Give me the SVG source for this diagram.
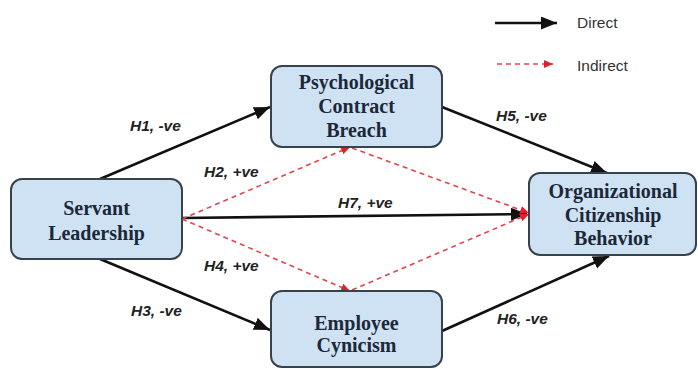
<svg xmlns="http://www.w3.org/2000/svg" width="698" height="369" viewBox="0 0 698 369">
<style>
.box{fill:#cfe2f3;stroke:#37424c;stroke-width:2}
.nt{font-family:"Liberation Serif","Times New Roman",serif;font-weight:bold;font-size:20px;fill:#1b2838;text-anchor:middle}
.lbl{font-family:"Liberation Sans",Arial,sans-serif;font-weight:bold;font-style:italic;font-size:15.5px;fill:#222}
.leg{font-family:"Liberation Sans",Arial,sans-serif;font-size:15.5px;fill:#333}
.d{stroke:#111;stroke-width:2.6;fill:none}
.i{stroke:#e0454a;stroke-width:1.6;stroke-dasharray:5 4;fill:none}
</style>
<defs>
<marker id="ab" markerUnits="userSpaceOnUse" markerWidth="17" markerHeight="14" refX="16" refY="6.5" orient="auto"><path d="M0,0 L16,6.5 L0,13 z" fill="#111"/></marker>
<marker id="ar" markerUnits="userSpaceOnUse" markerWidth="10" markerHeight="9" refX="9" refY="4" orient="auto"><path d="M0,0 L9,4 L0,8 z" fill="#e0202a"/></marker>
</defs>
<g id="legend">
<line class="d" x1="495" y1="23" x2="557" y2="23" marker-end="url(#ab)"/>
<text class="leg" x="577" y="28">Direct</text>
<line class="i" x1="497" y1="64" x2="553" y2="64" marker-end="url(#ar)"/>
<text class="leg" x="577" y="71">Indirect</text>
</g>
<g id="connectors">
<line class="d" x1="100" y1="179" x2="270" y2="107" marker-end="url(#ab)"/>
<line class="d" x1="100" y1="259" x2="270" y2="330" marker-end="url(#ab)"/>
<line class="d" x1="442" y1="107" x2="607" y2="173" marker-end="url(#ab)"/>
<line class="d" x1="442" y1="331" x2="609" y2="256" marker-end="url(#ab)"/>
<line class="d" x1="182" y1="218" x2="527" y2="214" marker-end="url(#ab)"/>
<line class="i" x1="182" y1="219" x2="350" y2="147" marker-end="url(#ar)"/>
<line class="i" x1="182" y1="219" x2="350" y2="291" marker-end="url(#ar)"/>
<line class="i" x1="352" y1="148" x2="529" y2="213" marker-end="url(#ar)"/>
<line class="i" x1="352" y1="290" x2="529" y2="214" marker-end="url(#ar)"/>
<text class="lbl" x="130" y="131">H1, -ve</text>
<text class="lbl" x="204" y="177">H2, +ve</text>
<text class="lbl" x="204" y="271">H4, +ve</text>
<text class="lbl" x="131" y="316">H3, -ve</text>
<text class="lbl" x="496" y="121">H5, -ve</text>
<text class="lbl" x="338" y="208">H7, +ve</text>
<text class="lbl" x="497" y="324">H6, -ve</text>
</g>
<g id="psych">
<rect class="box" x="271" y="66" width="171" height="81" rx="11"/>
<text class="nt" x="356.5" y="89">Psychological</text>
<text class="nt" x="356.5" y="113">Contract</text>
<text class="nt" x="356.5" y="137">Breach</text>
</g>
<g id="servant">
<rect class="box" x="11" y="179" width="171" height="80" rx="11"/>
<text class="nt" x="96.5" y="215">Servant</text>
<text class="nt" x="96.5" y="240">Leadership</text>
</g>
<g id="ocb">
<rect class="box" x="529" y="173" width="167" height="82" rx="11"/>
<text class="nt" x="613" y="198">Organizational</text>
<text class="nt" x="613" y="222">Citizenship</text>
<text class="nt" x="613" y="245">Behavior</text>
</g>
<g id="employee">
<rect class="box" x="271" y="291" width="171" height="76" rx="11"/>
<text class="nt" x="356.5" y="330">Employee</text>
<text class="nt" x="356.5" y="352">Cynicism</text>
</g>
</svg>
